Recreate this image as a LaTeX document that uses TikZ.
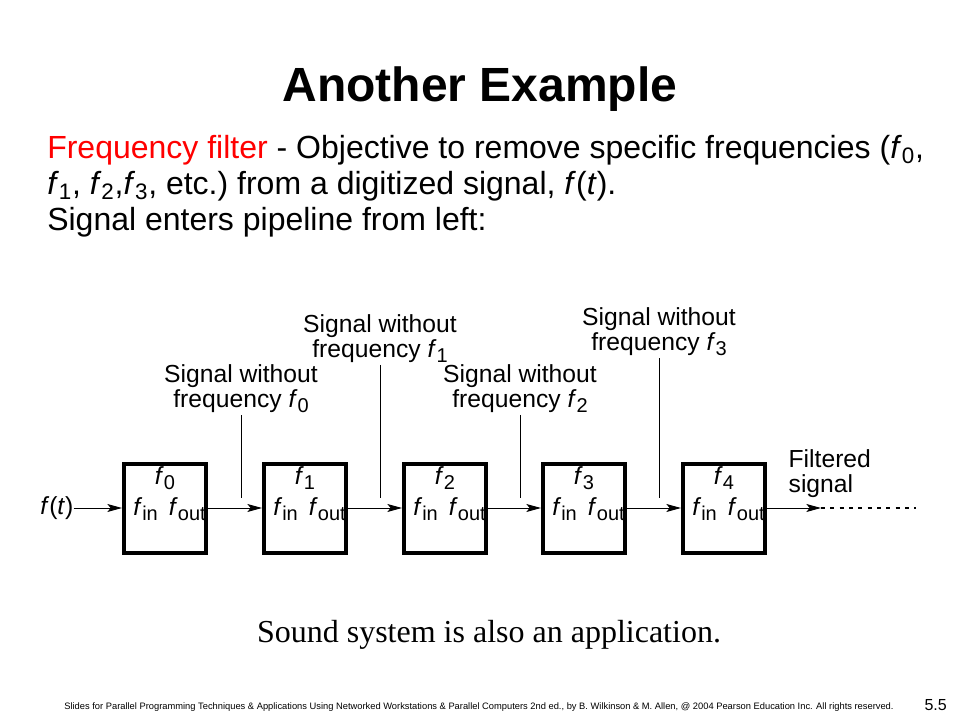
\documentclass[tikz,border=0pt]{standalone}
\usepackage{fontspec}
\setmainfont{Liberation Sans}
\newfontfamily\timesfont{Liberation Serif}
\usetikzlibrary{arrows.meta}
\newcommand{\fsub}[1]{\textit{f}\raisebox{-0.4ex}{\fontsize{15}{15}\selectfont #1}}
\newcommand{\fbody}[1]{\textit{f}\textsubscript{#1}}

\begin{document}
\begin{tikzpicture}
            [
                x = 0.75pt, y = -0.75pt,
                every node/.style = {inner sep = 0pt},
                body/.style = {anchor = base west, font = \fontsize{24}{27}\selectfont},
                sigtext/.style = {align = center, anchor = base, font = \fontsize{18.5}{18.5}\selectfont, outer sep = 2pt},
                fsymb/.style = {font = \fontsize{18.5}{18.5}\selectfont},
                stage/.style = {draw, line width = 3pt, minimum width = 61.5pt, minimum height = 66.75pt},
                wire/.style = {line width = 0.75pt, -{Stealth[length = 11pt, width = 6pt, inset = 2.5pt]}},
                tap/.style = {line width = 0.75pt},
                dots/.style = {line width = 2.2pt, dash pattern = on 3pt off 4pt},
            ]

                \useasboundingbox (0, 0) rectangle (960, 720);

                % title and text
                \node [anchor = base, font = \fontsize{36}{36}\selectfont\bfseries] (title) at (480, 102) {Another Example};
                \node [body] (line1) at (47, 159) {\textcolor{red}{Frequency filter} - Objective to remove specific frequencies (\fbody{0},};
                \node [body] (line2) at (47, 195) {\fbody{1}, \fbody{2},\fbody{3}, etc.)\ from a digitized signal, \textit{f}(\textit{t}).};
                \node [body] (line3) at (47, 231) {Signal enters pipeline from left:};

                % pipeline
                \node [fsymb, anchor = west] (ft) at (40, 508) {\textit{f}(\textit{t})};
                \foreach \i/\cx in {0/165, 1/305, 2/445, 3/584, 4/724} {
                    \node [stage] (box\i) at (\cx, 508) {};
                    \node [fsymb, anchor = base] (fk\i) at (\cx, 484) {\fsub{\i}};
                    \node [fsymb, anchor = base west] (fin\i) at (\cx - 32, 515) {\fsub{in}};
                    \node [fsymb, anchor = base east] (fout\i) at (\cx + 41, 515) {\fsub{out}};
                }

                \draw [wire] (ft) -- (box0);
                \draw [wire] (box0) -- (box1);
                \draw [wire] (box1) -- (box2);
                \draw [wire] (box2) -- (box3);
                \draw [wire] (box3) -- (box4);
                \coordinate (sigend) at (821, 508);
                \coordinate (dotend) at (916, 508);
                \draw [wire] (box4) -- (sigend);
                \draw [dots] (sigend) -- (dotend);

                % removed frequencies
                \node [sigtext] (sig0) at (241, 407) {Signal without\\frequency \fsub{0}};
                \node [sigtext] (sig1) at (380, 357) {Signal without\\frequency \fsub{1}};
                \node [sigtext] (sig2) at (520, 407) {Signal without\\frequency \fsub{2}};
                \node [sigtext] (sig3) at (659, 350) {Signal without\\frequency \fsub{3}};
                \node [sigtext, align = left, anchor = base west] (filt) at (786, 492) {Filtered\\signal};

                \coordinate (tap0) at (241, 498);
                \coordinate (tap1) at (380, 498);
                \coordinate (tap2) at (520, 498);
                \coordinate (tap3) at (659, 498);
                \draw [tap] (sig0) -- (tap0);
                \draw [tap] (sig1) -- (tap1);
                \draw [tap] (sig2) -- (tap2);
                \draw [tap] (sig3) -- (tap3);

                % bottom
                \node [anchor = base, font = \timesfont\fontsize{24}{24}\selectfont] (sound) at (489, 642) {Sound system is also an application.};
                \node [anchor = base, font = \fontsize{7}{8}\selectfont] (footer) at (479, 709) {Slides for Parallel Programming Techniques \& Applications Using Networked Workstations \& Parallel Computers 2nd ed., by B. Wilkinson \& M. Allen, @ 2004 Pearson Education Inc. All rights reserved.};
                \node [anchor = base east, font = \fontsize{12}{12}\selectfont] (page) at (947, 710) {5.5};
\end{tikzpicture}
\end{document}
